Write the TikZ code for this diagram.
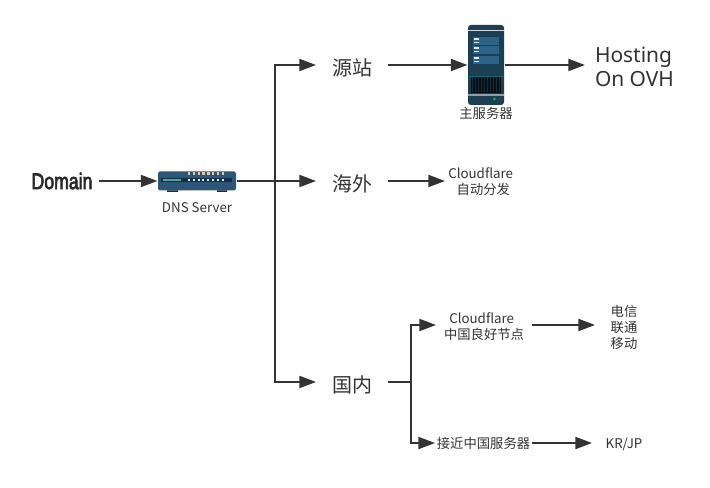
\documentclass[tikz,border=0pt]{standalone}
\usepackage{fontspec}
\setmainfont{Noto Sans CJK SC}
\newfontfamily\latinfont{Noto Sans}
\newfontfamily\domainfont[FakeBold=3.5]{Liberation Sans}
\definecolor{ink_c}{HTML}{333333}
\definecolor{dev_c}{HTML}{2D5577}
\definecolor{dark_c}{HTML}{12303F}
\definecolor{panel_c}{HTML}{2C6487}
\definecolor{rack_c}{HTML}{1D3F54}
\usetikzlibrary{arrows.meta,
		calc,
		positioning}

\begin{document}
\begin{tikzpicture}[
			x=0.75pt,
			y=-0.75pt,
			thick,
			box/.style = {inner sep=0pt, outer sep=0pt, text=ink_c, align=center},
			large/.style = {box, minimum width=54pt, text height=17.5pt, text depth=1.5pt, font=\fontsize{15}{18}\selectfont},
			small/.style = {box, font=\fontsize{10}{12}\selectfont},
			single/.style = {small, text height=8.6pt, text depth=1pt},
			link/.style = {draw=ink_c, line width=1.5pt, -{Triangle[length=12.5pt,width=9pt]}},
			line/.style = {draw=ink_c, line width=1.5pt},
			]
			\useasboundingbox (0,0) rectangle (710,488);
			% words
			\node[box, minimum width=55.5pt] (domain) at (62,181) {\raisebox{-3pt}{\scalebox{0.78}[1]{\fontsize{17}{18}\selectfont\domainfont\color{ink_c!80!black}Domain}}};
			\node[small] (dnslabel) at (197,208) {DNS Server};
			\node[large] (yuan) at (352,65) {源站};
			\node[large] (hai) at (352,181) {海外};
			\node[large] (guo) at (352,382) {国内};
			\node[box, anchor=west, align=left, inner xsep=7.5pt, font=\fontsize{15.7}{18}\selectfont] (ovh) at (585,66.5) {\latinfont Hosting\\\latinfont On OVH};
			\node[small, minimum width=52.5pt] (cfout) at (480,181.5) {\kern1pt Cloudflare\\\kern5pt 自动分发};
			\node[small, minimum width=72pt] (cfcn) at (484,327) {Cloudflare\kern3.5pt\\中国良好节点};
			\node[single, minimum width=72.75pt] (near) at (483.5,443) {接近中国服务器};
			\node[small, minimum width=43.5pt] (isp) at (624,327) {电信\\联通\\移动};
			\node[single, minimum width=48pt] (krjp) at (624,443) {KR/JP};
			% devices
			\node[inner sep=0pt, minimum width=58.5pt, minimum height=14.25pt, fill=dev_c, rounded corners=1.2pt] (dns) at (197,181) {};
			\node[inner sep=0pt, minimum width=27pt, minimum height=60pt, fill=rack_c, rounded corners=2.2pt] (rack) at (486,65) {};
			\node[small] (mainlabel) at (486,113) {主服务器};
			\fill[dark_c] (167,190.5) rectangle (178,192) (217,190.5) rectangle (227,192);
			\fill[dark_c] (161,178) rectangle (232,182);
			\fill[teal!70!white] (163,179) rectangle (181,181);
			\foreach \i in {0,...,7} {
				\fill[brown!45!white] ({188+4.8*\i},172.5) rectangle ++(2.4,3);
				\fill[white!85!teal] ({188+4.8*\i},179.5) rectangle ++(2,1.4);
			}
			\fill[white!80!rack_c] (468,30.5) rectangle (504,31.5);
			\foreach \y in {37,46,56} {
				\fill[panel_c] (473,\y) rectangle ++(26,7.8);
				\fill[white!85!panel_c] (474,{\y+1.5}) rectangle ++(5,1.3);
				\fill[white!85!panel_c] (474,{\y+5}) rectangle ++(5,1.3);
			}
			\fill[teal!70!rack_c] (468,76) rectangle (504,76.8);
			\fill[black!75!rack_c] (471,77) rectangle (501,93);
			\foreach \i in {0,...,9} {
				\fill[panel_c!45!black] ({472+3*\i},78) rectangle ++(0.8,14);
			}
			\fill[white!50!rack_c] (468,94) rectangle (504,96);
			\fill[green!60!teal] (494.5,99) circle (1.3);
			\fill[red!60!rack_c] (499.8,99) circle (1.3);
			% connectors
			\coordinate (fork) at (275,181);
			\coordinate (split) at (411,382);
			\draw[link] (domain.east) -- (dns.west);
			\draw[link] (dns.east) -- (hai.west);
			\draw[link] (fork) |- (yuan.west);
			\draw[link] (fork) |- (guo.west);
			\draw[link] (yuan.east) -- (rack.west);
			\draw[link] (rack.east) -- (rack.east -| ovh.west);
			\draw[link] (hai.east) -- (hai.east -| cfout.west);
			\draw[line] (guo.east) -- (split);
			\draw[link] (split) |- ([yshift=1.5pt]cfcn.west);
			\draw[link] (split) |- (near.west);
			\draw[link] ([yshift=1.5pt]cfcn.east) -- ([yshift=1.5pt]cfcn.east -| isp.west);
			\draw[link] (near.east) -- (krjp.west);
		\end{tikzpicture}
\end{document}
